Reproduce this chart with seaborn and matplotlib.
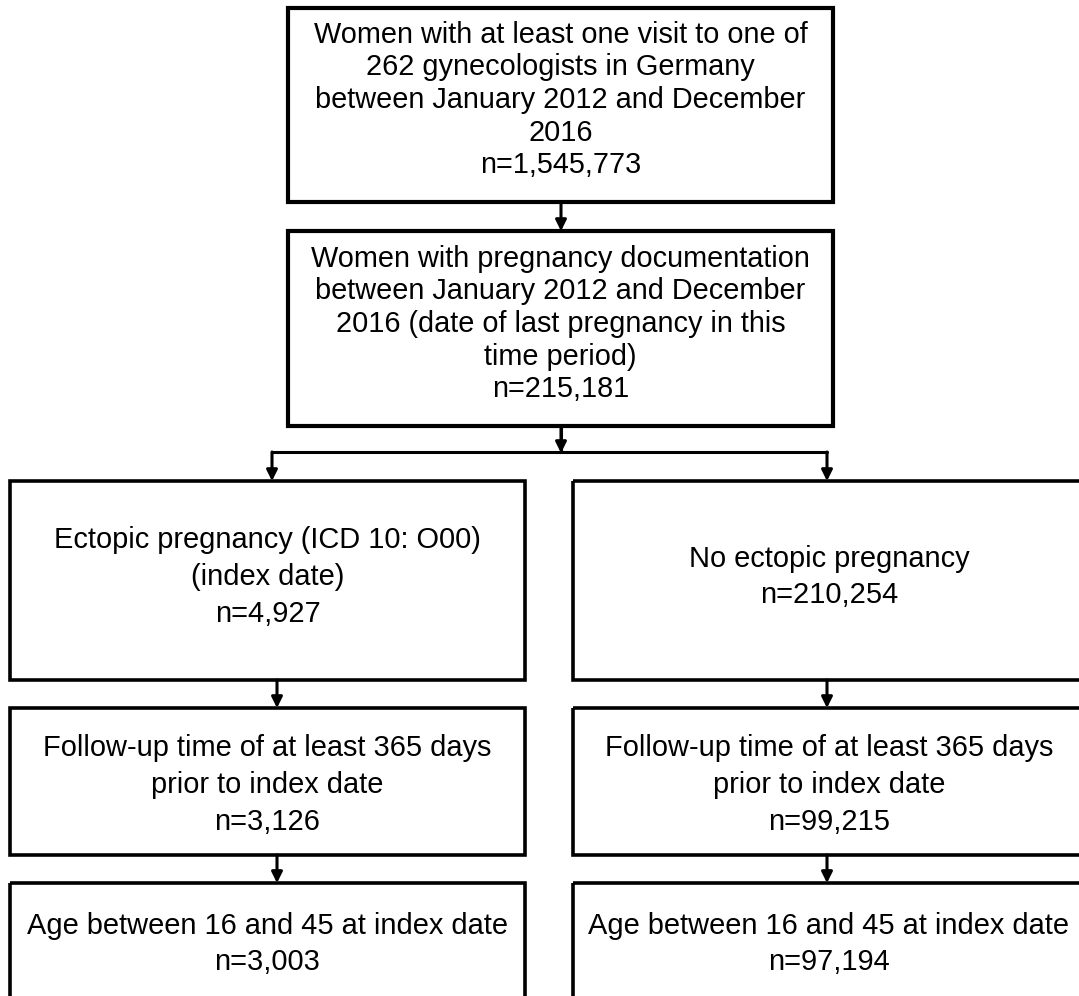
import matplotlib
matplotlib.use("Agg")
import matplotlib.pyplot as plt
import seaborn as sns
from matplotlib.patches import Rectangle

# --- dados do fluxograma ---
top_labels = [
    "Women with at least one visit to one of\n262 gynecologists in Germany\nbetween January 2012 and December\n2016",
    "Women with pregnancy documentation\nbetween January 2012 and December\n2016 (date of last pregnancy in this\ntime period)",
]
top_counts = ["1,545,773", "215,181"]

left_labels = [
    "Ectopic pregnancy (ICD 10: O00)\n(index date)",
    "Follow-up time of at least 365 days\nprior to index date",
    "Age between 16 and 45 at index date",
]
left_counts = ["4,927", "3,126", "3,003"]

right_labels = [
    "No ectopic pregnancy",
    "Follow-up time of at least 365 days\nprior to index date",
    "Age between 16 and 45 at index date",
]
right_counts = ["210,254", "99,215", "97,194"]

# --- layout (coordenadas em pixels) ---
W, H = 1079, 996
top_boxes = [(288, 8, 833, 202), (288, 231, 833, 426)]
top_text_y = [100, 324]
row_y = [(481, 680), (708, 855), (883, 1010)]
row_text_y = [577, 785, 944]
left_x = (10, 525)
right_x = (573, 1085)
arrow_left = 277
arrow_right = 827
split_y = 452

sns.set_theme(style="white")
plt.rcParams['font.family'] = ['Liberation Sans', 'DejaVu Sans']

fig = plt.figure(figsize=(W / 100, H / 100), dpi=100)
ax = fig.add_axes([0, 0, 1, 1])
ax.set_xlim(0, W)
ax.set_ylim(H, 0)
ax.axis('off')


def draw_box(x0, y0, x1, y1, text, ty, lw=2.6, fs=20.9, ls=1.39):
    ax.add_patch(Rectangle((x0, y0), x1 - x0, y1 - y0, fill=False,
                           edgecolor='black', linewidth=lw, clip_on=False))
    ax.text((x0 + x1) / 2, ty, text, ha='center', va='center',
            fontsize=fs, linespacing=ls, color='black')


def arrow(x, y0, y1):
    ax.annotate('', xy=(x, y1), xytext=(x, y0),
                arrowprops=dict(arrowstyle='-|>', color='black', lw=2.2,
                                mutation_scale=16, shrinkA=0, shrinkB=0))


for (x0, y0, x1, y1), ty, lab, n in zip(top_boxes, top_text_y, top_labels, top_counts):
    draw_box(x0, y0, x1, y1, f"{lab}\nn={n}", ty, lw=3, fs=20.8, ls=1.21)

arrow(561, top_boxes[0][3], top_boxes[1][1])

# ramificação
ax.plot([561, 561], [top_boxes[1][3], split_y], color='black', lw=2.2)
ax.plot([arrow_left - 5, arrow_right], [split_y, split_y], color='black', lw=2.2)
arrow(561, top_boxes[1][3], split_y + 1)
arrow(arrow_left - 5, split_y, row_y[0][0])
arrow(arrow_right, split_y, row_y[0][0])

for i, (y0, y1) in enumerate(row_y):
    ty = row_text_y[i]
    draw_box(left_x[0], y0, left_x[1], y1, f"{left_labels[i]}\nn={left_counts[i]}", ty)
    draw_box(right_x[0], y0, right_x[1], y1, f"{right_labels[i]}\nn={right_counts[i]}", ty)
    if i < len(row_y) - 1:
        arrow(arrow_left, y1, row_y[i + 1][0])
        arrow(arrow_right, y1, row_y[i + 1][0])

fig.savefig("out.png", dpi=100, facecolor='white')
